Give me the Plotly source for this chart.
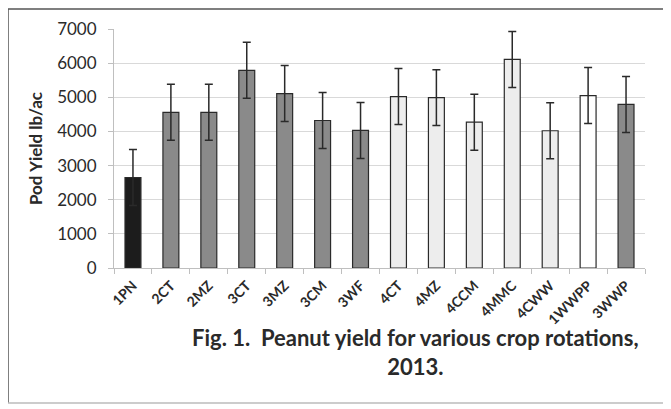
import plotly.graph_objects as go

categories = ["1PN", "2CT", "2MZ", "3CT", "3MZ", "3CM", "3WF", "4CT", "4MZ",
              "4CCM", "4MMC", "4CWW", "1WWPP", "3WWP"]
yields = [2650, 4560, 4560, 5790, 5110, 4320, 4030, 5020, 4990, 4270, 6110, 4020, 5050, 4790]
errors = [820, 820, 820, 820, 820, 820, 820, 820, 820, 820, 820, 820, 820, 820]
bar_colors = ["#1c1c1c", "#8a8a8a", "#8a8a8a", "#8a8a8a", "#8a8a8a", "#8a8a8a", "#8a8a8a",
              "#ededed", "#ededed", "#ededed", "#ededed", "#ededed", "#ffffff", "#8a8a8a"]
y_ticks = [0, 1000, 2000, 3000, 4000, 5000, 6000, 7000]

FONT = "Lato"
L, R, T, B = 106, 34, 21, 149
W, H = 671, 409
PW, PH = W - L - R, H - T - B

def px_x(p):
    return (p - L) / PW

def px_y(p):
    return (H - B - p) / PH

fig = go.Figure()
fig.add_trace(go.Bar(
    x=categories, y=yields,
    marker=dict(color=bar_colors, line=dict(color="#2a2a2a", width=1.2)),
    error_y=dict(type="data", array=errors, visible=True, color="#2a2a2a",
                 thickness=1.5, width=4),
    width=0.42,
))

fig.update_layout(
    width=W, height=H,
    margin=dict(l=L, r=R, t=T, b=B, autoexpand=False),
    paper_bgcolor="white", plot_bgcolor="white",
    showlegend=False,
    font=dict(family=FONT, color="#2a2a2a"),
    xaxis=dict(
        type="category",
        showline=True, linecolor="#bfbfbf", linewidth=1,
        ticks="outside", tickson="boundaries", ticklen=5, tickcolor="#bfbfbf",
        tickangle=-45, tickfont=dict(size=14, family=FONT, color="#2a2a2a", weight="bold"),
        ticklabelstandoff=3,
        showgrid=False,
    ),
    yaxis=dict(
        range=[0, 7000], tickvals=y_ticks,
        showgrid=True, gridcolor="#d9d9d9", gridwidth=1,
        showline=True, linecolor="#bfbfbf", linewidth=1,
        ticks="outside", ticklen=5, tickcolor="#bfbfbf",
        tickfont=dict(size=17, family=FONT, color="#2a2a2a"),
        ticklabelstandoff=8,
        title=dict(text="<b>Pod Yield lb/ac</b>", font=dict(size=17, family=FONT, color="#2a2a2a"),
                   standoff=10),
        zeroline=False,
    ),
    annotations=[
        dict(text="<b>Fig. 1.  Peanut yield for various crop rotations,</b><br><b>2013.</b>",
             xref="paper", yref="paper", x=px_x(407), y=px_y(344),
             xanchor="center", yanchor="middle",
             showarrow=False, align="center",
             font=dict(size=22, family=FONT, color="#2a2a2a")),
    ],
    shapes=[
        dict(type="line", xref="paper", yref="paper", x0=px_x(0), x1=px_x(W), y0=px_y(1), y1=px_y(1),
             line=dict(color="#555555", width=1.5)),
        dict(type="line", xref="paper", yref="paper", x0=px_x(0), x1=px_x(0), y0=px_y(1), y1=px_y(395),
             line=dict(color="#555555", width=1.5)),
        dict(type="line", xref="paper", yref="paper", x0=px_x(0), x1=px_x(W), y0=px_y(395), y1=px_y(395),
             line=dict(color="#bbbbbb", width=1.5)),
    ],
)

fig.write_html("out.html")
